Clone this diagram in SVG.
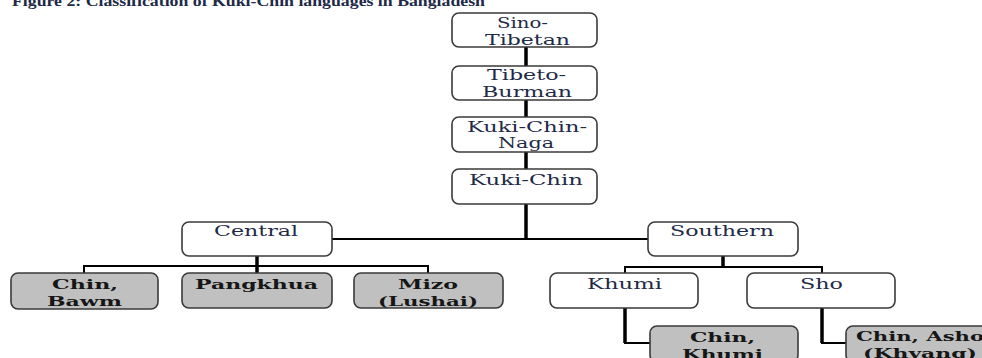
<svg xmlns="http://www.w3.org/2000/svg" width="982" height="358" viewBox="0 0 982 358">
<style>
.box{fill:#ffffff;stroke:#3a3a3a;stroke-width:1.6}
.leaf{fill:#c0c0c0;stroke:#3a3a3a;stroke-width:1.6}
.t{font-family:"DejaVu Serif","Liberation Serif",serif;font-size:14px;fill:#1e2a47}
.lt{font-family:"DejaVu Serif","Liberation Serif",serif;font-size:13px;font-weight:bold;fill:#161616}
.title{font-family:"Liberation Serif",serif;font-size:15px;font-weight:bold;fill:#1e2a47}
.thick{stroke:#000;stroke-width:3.5;fill:none}
.thin{stroke:#000;stroke-width:2;fill:none}
</style>
<rect width="982" height="358" fill="#ffffff"/>
<text class="title" x="12" y="6" textLength="473" lengthAdjust="spacingAndGlyphs">Figure 2: Classification of Kuki-Chin languages in Bangladesh</text>
<g id="connectors">
<line class="thick" x1="526" y1="47" x2="526" y2="66"/>
<line class="thick" x1="526" y1="100" x2="526" y2="117"/>
<line class="thick" x1="526" y1="152" x2="526" y2="169"/>
<line class="thick" x1="526" y1="204" x2="526" y2="240"/>
<line class="thin" x1="332" y1="239" x2="648" y2="239"/>
<line class="thick" x1="257" y1="256" x2="257" y2="273"/>
<polyline class="thin" points="84,273 84,266 428,266 428,273"/>
<line class="thick" x1="723" y1="256" x2="723" y2="267"/>
<polyline class="thin" points="625,273 625,267 822,267 822,273"/>
<polyline class="thin" points="625,308 625,343 650,343"/>
<line class="thick" x1="625" y1="308" x2="625" y2="343"/>
<polyline class="thin" points="822,308 822,343 846,343"/>
<line class="thick" x1="822" y1="308" x2="822" y2="343"/>
</g>
<g id="sino-tibetan">
<rect class="box" x="452" y="13" width="145" height="34" rx="7"/>
<text class="t" x="497" y="28" textLength="51" lengthAdjust="spacingAndGlyphs">Sino-</text>
<text class="t" x="485" y="45" textLength="85" lengthAdjust="spacingAndGlyphs">Tibetan</text>
</g>
<g id="tibeto-burman">
<rect class="box" x="452" y="66" width="145" height="34" rx="7"/>
<text class="t" x="487" y="80" textLength="79" lengthAdjust="spacingAndGlyphs">Tibeto-</text>
<text class="t" x="482" y="97" textLength="90" lengthAdjust="spacingAndGlyphs">Burman</text>
</g>
<g id="kuki-chin-naga">
<rect class="box" x="452" y="117" width="145" height="35" rx="7"/>
<text class="t" x="467" y="132" textLength="120" lengthAdjust="spacingAndGlyphs">Kuki-Chin-</text>
<text class="t" x="498" y="148" textLength="56" lengthAdjust="spacingAndGlyphs">Naga</text>
</g>
<g id="kuki-chin">
<rect class="box" x="452" y="169" width="145" height="35" rx="7"/>
<text class="t" x="469" y="185" textLength="114" lengthAdjust="spacingAndGlyphs">Kuki-Chin</text>
</g>
<g id="central">
<rect class="box" x="182" y="222" width="150" height="34" rx="7"/>
<text class="t" x="214" y="236" textLength="84" lengthAdjust="spacingAndGlyphs">Central</text>
</g>
<g id="southern">
<rect class="box" x="648" y="222" width="150" height="34" rx="7"/>
<text class="t" x="670" y="236" textLength="104" lengthAdjust="spacingAndGlyphs">Southern</text>
</g>
<g id="chin-bawm">
<rect class="leaf" x="11" y="273" width="147" height="36" rx="7"/>
<text class="lt" x="52" y="289" textLength="66" lengthAdjust="spacingAndGlyphs">Chin,</text>
<text class="lt" x="47" y="306" textLength="75" lengthAdjust="spacingAndGlyphs">Bawm</text>
</g>
<g id="pangkhua">
<rect class="leaf" x="182" y="273" width="150" height="35" rx="7"/>
<text class="lt" x="195" y="289" textLength="123" lengthAdjust="spacingAndGlyphs">Pangkhua</text>
</g>
<g id="mizo">
<rect class="leaf" x="354" y="273" width="149" height="35" rx="7"/>
<text class="lt" x="398" y="289" textLength="60" lengthAdjust="spacingAndGlyphs">Mizo</text>
<text class="lt" x="378" y="306" textLength="100" lengthAdjust="spacingAndGlyphs">(Lushai)</text>
</g>
<g id="khumi">
<rect class="box" x="550" y="273" width="148" height="35" rx="7"/>
<text class="t" x="587" y="289" textLength="75" lengthAdjust="spacingAndGlyphs">Khumi</text>
</g>
<g id="sho">
<rect class="box" x="747" y="273" width="148" height="35" rx="7"/>
<text class="t" x="800" y="289" textLength="43" lengthAdjust="spacingAndGlyphs">Sho</text>
</g>
<g id="chin-khumi">
<rect class="leaf" x="650" y="326" width="148" height="36" rx="7"/>
<text class="lt" x="690" y="342" textLength="65" lengthAdjust="spacingAndGlyphs">Chin,</text>
<text class="lt" x="682" y="359" textLength="81" lengthAdjust="spacingAndGlyphs">Khumi</text>
</g>
<g id="chin-asho">
<rect class="leaf" x="846" y="326" width="148" height="36" rx="7"/>
<text class="lt" x="856" y="341" textLength="128" lengthAdjust="spacingAndGlyphs">Chin, Asho</text>
<text class="lt" x="863" y="358" textLength="114" lengthAdjust="spacingAndGlyphs">(Khyang)</text>
</g>
</svg>
